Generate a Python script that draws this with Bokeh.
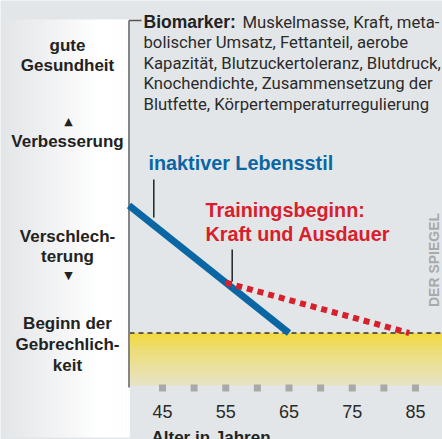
import numpy as np
from bokeh.plotting import figure
from bokeh.models import Range1d, Label
from bokeh.embed import file_html
from bokeh.resources import INLINE

# ---------------- data ----------------
age_ticks = [45, 50, 55, 60, 65, 70, 75, 80, 85]
age_label_values = [45, 55, 65, 75, 85]
age_labels = ["45", "55", "65", "75", "85"]

inactive_age = [39.7, 65.0]      # inaktiver Lebensstil
inactive_level = [10.0, 0.0]
training_age = [55.0, 84.0]      # Trainingsbeginn: Kraft und Ausdauer
training_level = [3.95, 0.0]
frailty_level = 0.0              # Beginn der Gebrechlichkeit

biomarker_head = "Biomarker:"
biomarker_lines = [
    "Muskelmasse, Kraft, meta-",
    "bolischer Umsatz, Fettanteil, aerobe",
    "Kapazität, Blutzuckertoleranz, Blutdruck,",
    "Knochendichte, Zusammensetzung der",
    "Blutfette, Körpertemperaturregulierung",
]
level_labels = [
    ["gute", "Gesundheit"],
    ["Verbesserung"],
    ["Verschlech-", "terung"],
    ["Beginn der", "Gebrechlich-", "keit"],
]
x_title = "Alter in Jahren"
inactive_label = "inaktiver Lebensstil"
training_label = ["Trainingsbeginn:", "Kraft und Ausdauer"]
credit = "DER SPIEGEL"

# ---------------- styles ----------------
BG = "#e3e6e8"
BLUE = "#0a67a4"
RED = "#d7202b"
DARK = "#222222"
TXT = "#2b2b2b"
BOLD_FONT = "Liberation Sans"
BODY_FONT = "Roboto"
DY = -5.5           # baseline correction for text placement

SX = 6.325          # px per year
SY = 12.75          # px per level unit
X = lambda px: 45 + (px - 162.0) / SX
Y = lambda py: (332.5 - py) / SY

W, H = 442, 439
p = figure(width=W, height=H, x_range=Range1d(X(0), X(W)), y_range=Range1d(Y(H), Y(0)),
           output_backend="svg", toolbar_location=None, min_border=0,
           x_axis_location=None, y_axis_location=None,
           background_fill_color=BG, border_fill_color=BG, outline_line_color=None)
p.grid.visible = False

def mix(c1, c2, t):
    r = [int(round(a + (b - a) * t)) for a, b in zip(c1, c2)]
    return "#%02x%02x%02x" % tuple(r)

# left panel (horizontal gradient grey -> white)
n = 30
edges = np.linspace(7, 129, n + 1)
lefts, rights, cols = [], [], []
for i in range(n):
    t = min(1.0, (i + 0.5) / (n * 0.75))
    lefts.append(X(edges[i])); rights.append(X(edges[i + 1]) + 0.05)
    cols.append(mix((228, 230, 232), (255, 255, 255), t))
p.quad(left=lefts, right=rights, top=Y(19), bottom=Y(437), fill_color=cols, line_color=None)

# yellow frailty band (vertical gradient)
m = 26
band_edges = np.linspace(332.5, 385, m + 1)
tops, bots, bcols = [], [], []
for i in range(m):
    t = (i + 0.5) / m
    tops.append(Y(band_edges[i])); bots.append(Y(band_edges[i + 1]) - 0.02)
    bcols.append(mix((242, 217, 62), (231, 227, 196), t ** 0.9))
p.quad(left=X(129), right=X(W), top=tops, bottom=bots, fill_color=bcols, line_color=None)

# frailty threshold dashed line
p.segment(x0=X(129), x1=X(W), y0=frailty_level, y1=frailty_level,
          line_color="#333333", line_width=1.3, line_dash="5 4")

# vertical axis line and top tick
p.segment(x0=X(128.5), x1=X(128.5), y0=Y(20), y1=Y(387), line_color="#858585", line_width=2)
p.segment(x0=X(128.5), x1=X(141), y0=Y(20), y1=Y(20), line_color="#555555", line_width=1.5)

# tick squares
p.scatter(x=age_ticks, y=[Y(387.5)] * len(age_ticks), marker="square", size=7,
          fill_color="#a9a9a9", line_color=None)

# lines
p.line(inactive_age, inactive_level, line_color=BLUE, line_width=6.8)
p.line(training_age, training_level, line_color=RED, line_width=6, line_dash="6 5")

# leader lines
p.segment(x0=X(153.3), x1=X(153.3), y0=Y(179), y1=Y(217), line_color=DARK, line_width=1.5)
p.segment(x0=X(231.7), x1=X(231.7), y0=Y(249), y1=Y(281), line_color=DARK, line_width=1.5)

def lab(text, px, py, size, color, font=BOLD_FONT, bold=True, align="left",
        baseline="alphabetic", angle=0.0, dy=DY):
    p.add_layout(Label(x=X(px), y=Y(py + dy), text=text, text_font=font,
                       text_font_size=f"{size}px", text_font_style="bold" if bold else "normal",
                       text_color=color, text_align=align, text_baseline=baseline, angle=angle))

# biomarker text block
lab(biomarker_head, 143, 27, 17.5, DARK)
line_y = [27, 47.5, 68, 88.5, 109]
lab(biomarker_lines[0], 242, line_y[0], 16.7, TXT, font=BODY_FONT, bold=False)
for txt, yy in zip(biomarker_lines[1:], line_y[1:]):
    lab(txt, 143, yy, 16.7, TXT, font=BODY_FONT, bold=False)

# level labels on the left
level_y = [[50, 70.7], [146.7], [241.7, 261.7], [328, 349.5, 370]]
for lines, ys in zip(level_labels, level_y):
    for txt, yy in zip(lines, ys):
        lab(txt, 67, yy, 17, DARK, align="center")
lab("▲", 68, 122.5, 11, DARK, font="DejaVu Sans", bold=False, align="center",
    baseline="middle", dy=-2)
lab("▼", 68, 274.5, 11, DARK, font="DejaVu Sans", bold=False, align="center",
    baseline="middle", dy=0)

# series labels
lab(inactive_label, 148, 167.7, 19.8, BLUE)
lab(training_label[0], 205, 214.5, 19.8, RED)
lab(training_label[1], 205, 239, 19.8, RED)

# x tick labels & title
for v, t in zip(age_label_values, age_labels):
    p.add_layout(Label(x=v, y=Y(416.7 + DY), text=t, text_font=BOLD_FONT,
                       text_font_size="18px", text_color="#2a2a2a",
                       text_align="center", text_baseline="alphabetic"))
lab(x_title, 151, 442.5, 17, DARK)

# credit
lab(credit, 433, 259.5, 14, "#a8aaac", align="center", baseline="middle",
    angle=np.pi / 2, dy=0)

html = file_html(p, INLINE)
html = html.replace("<body>", '<body style="margin:0;background-color:#e3e6e8;">', 1)
open("out.html", "w").write(html)
